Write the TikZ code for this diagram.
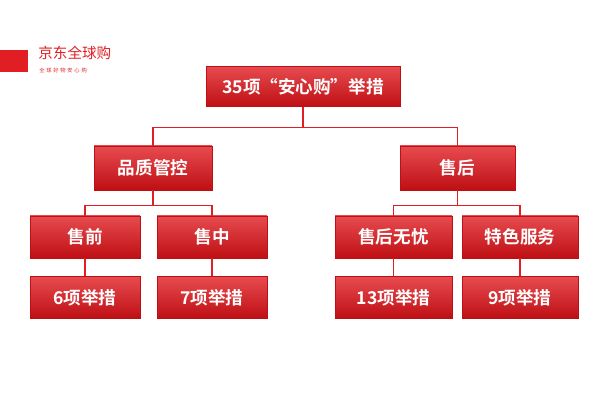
\documentclass[tikz,border=0pt]{standalone}
\usepackage{fontspec}
\newfontfamily\cjk{Noto Sans CJK SC}
\newfontfamily\cjkb{Noto Sans CJK SC Bold}
\usetikzlibrary{positioning,calc}
\definecolor{jdred}{RGB}{225,30,35}
\definecolor{jddark}{RGB}{190,15,20}
\tikzstyle{box}= [draw=jddark, top color=jdred!80!white, bottom color=jddark, minimum height=0.84cm, text=white, font=\cjkb\fontsize{10}{12}\selectfont]
\tikzstyle{link}= [draw=jdred, line width=0.6pt]

\begin{document}
\begin{tikzpicture}
						\useasboundingbox (0,0) rectangle (12,-8);
						\fill[jdred] (0,-1) rectangle (0.56,-1.44);
						\node[text=jdred, font=\cjk\fontsize{8.3}{10}\selectfont, anchor=west, inner sep=0pt] (brand) at (0.76,-1.06) {京东全球购};
						\node[text=jdred, font=\cjk\fontsize{3}{4}\selectfont, anchor=north west, inner sep=0pt] (slogan) at (0.78,-1.36) {全\,\,球\,\,好\,\,物\,\,安\,\,心\,\,购};
						\node[box, minimum width=3.88cm, minimum height=0.8cm] (top) at (6.06,-1.73) {35项“安心购”举措};
						\node[box, minimum width=2.36cm, minimum height=0.88cm] (quality) at (3.06,-3.36) {品质管控};
						\node[box, minimum width=2.3cm, minimum height=0.88cm] (after) at (9.15,-3.36) {售后};
						\node[box, minimum width=2.2cm] (pre) at (1.7,-4.74) {售前};
						\node[box, minimum width=2.2cm] (mid) at (4.24,-4.74) {售中};
						\node[box, minimum width=2.34cm] (worry) at (7.87,-4.74) {售后无忧};
						\node[box, minimum width=2.32cm] (special) at (10.4,-4.74) {特色服务};
						\node[box, minimum width=2.2cm] (m6) at (1.7,-5.95) {6项举措};
						\node[box, minimum width=2.2cm] (m7) at (4.24,-5.95) {7项举措};
						\node[box, minimum width=2.34cm] (m13) at (7.87,-5.95) {13项举措};
						\node[box, minimum width=2.32cm] (m9) at (10.4,-5.95) {9项举措};
						\coordinate (t1) at ($(top.south)+(0,-0.42)$);
						\coordinate (q1) at ($(quality.south)+(0,-0.3)$);
						\coordinate (a1) at ($(after.south)+(0,-0.3)$);
						\draw[link] (top) -- (t1) -| (quality.north);
						\draw[link] (t1) -| (after.north);
						\draw[link] (quality) -- (q1) -| (pre.north);
						\draw[link] (q1) -| (mid.north);
						\draw[link] (after) -- (a1) -| (worry.north);
						\draw[link] (a1) -| (special.north);
						\draw[link] (pre) -- (m6);
						\draw[link] (mid) -- (m7);
						\draw[link] (worry) -- (m13);
						\draw[link] (special) -- (m9);
					\end{tikzpicture}
\end{document}
